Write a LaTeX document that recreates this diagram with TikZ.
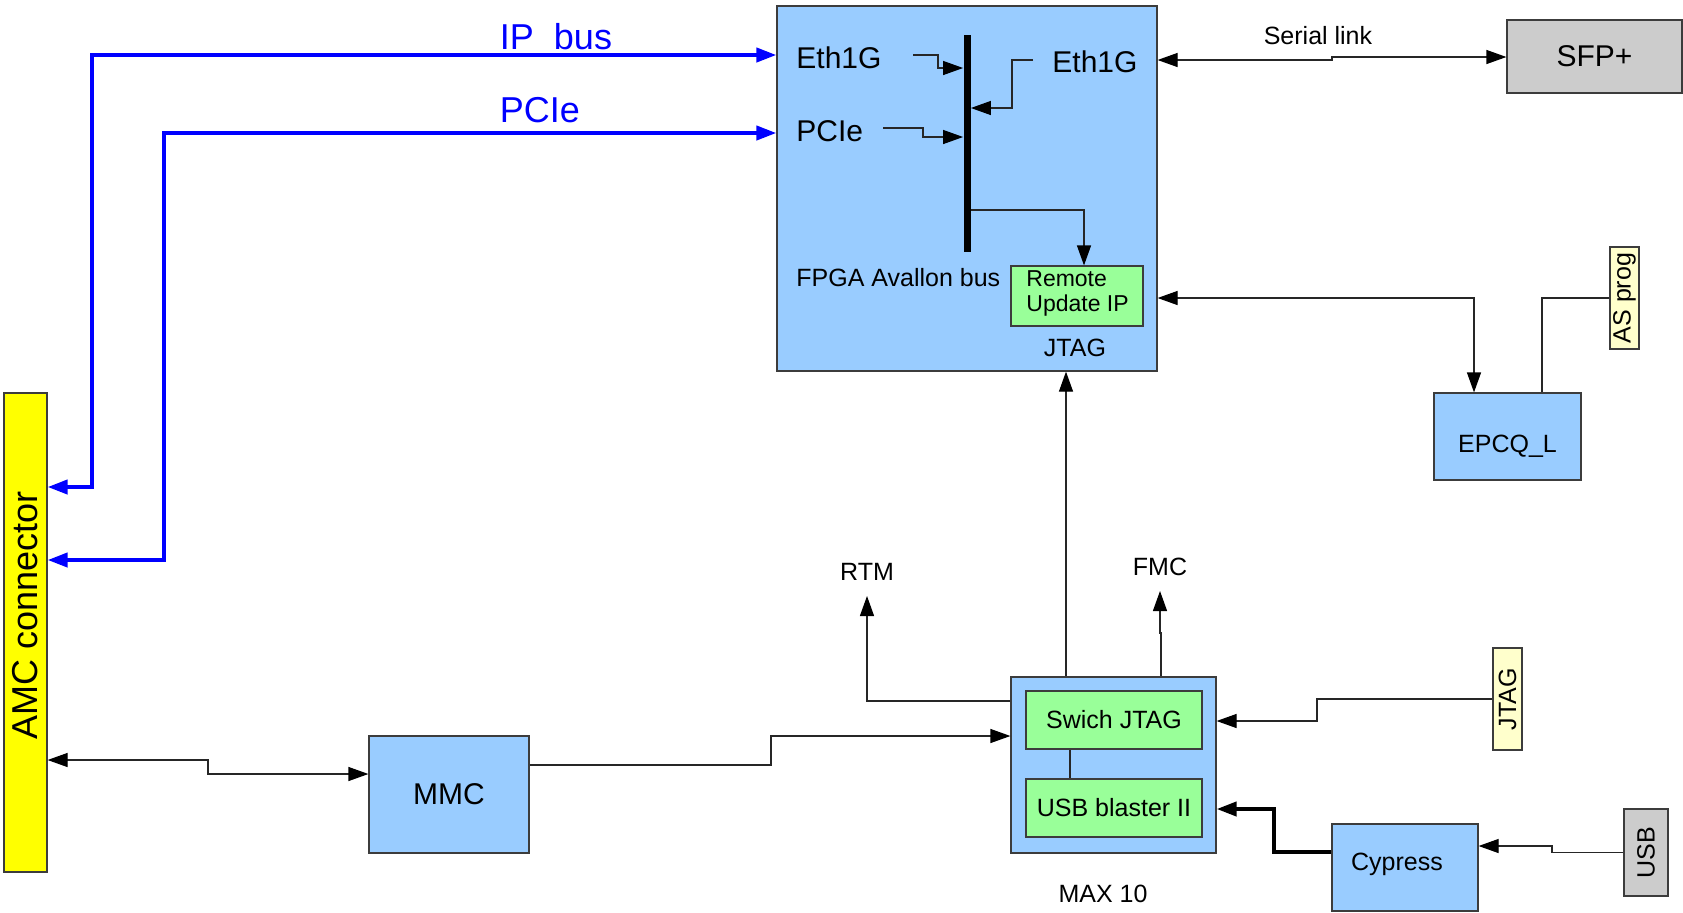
\documentclass[tikz,border=0pt]{standalone}
\usepackage{fontspec}
\setmainfont{Liberation Sans}
\usepackage{tikz}
\usetikzlibrary{arrows.meta,positioning,calc}
\definecolor{fpgablue}{HTML}{99CCFF}
\definecolor{ipgreen}{HTML}{99FF99}
\definecolor{amcyellow}{HTML}{FFFF00}
\definecolor{padyellow}{HTML}{FFFFCC}
\definecolor{portgray}{HTML}{CCCCCC}
\definecolor{boxedge}{HTML}{3C3C3C}
\definecolor{wirecol}{HTML}{262626}
\newcommand{\fsmall}{\fontsize{11.5pt}{12.5pt}\selectfont}
\newcommand{\fnorm}{\fontsize{12.5pt}{15pt}\selectfont}
\newcommand{\fbig}{\fontsize{15pt}{18pt}\selectfont}
\newcommand{\fhuge}{\fontsize{18pt}{21pt}\selectfont}

\begin{document}
\begin{tikzpicture}[x=0.5pt,y=-0.5pt,
  blk/.style={draw=boxedge,line width=0.6pt,inner sep=0pt,font=\fnorm},
  lbl/.style={inner sep=0pt,font=\fnorm},
  wire/.style={draw=wirecol,line width=0.6pt},
  tip/.style={-{Triangle[length=10pt,width=7pt,color=black]}},
  tips/.style={{Triangle[length=10pt,width=7pt,color=black]}-{Triangle[length=10pt,width=7pt,color=black]}},
  bluebus/.style={draw=blue,line width=2pt,{Triangle[length=10pt,width=7pt]}-{Triangle[length=10pt,width=7pt]}}]
  \path[use as bounding box,fill=white] (0,0) rectangle (1683,912);

  % FPGA with its internal bus
  \node[blk,fill=fpgablue,minimum width=190pt,minimum height=182.5pt] (fpga) at (967,188.5) {};
  \node[fill=black,inner sep=0pt,minimum width=3.5pt,minimum height=108.5pt] (bus) at (967,143.5) {};
  \node[lbl,font=\fbig,anchor=west] (ethA) at (796,58) {Eth1G};
  \node[lbl,font=\fbig,anchor=west] (ethB) at (1052,62) {Eth1G};
  \node[lbl,font=\fbig,anchor=west] (pcie) at (796,131) {PCIe};
  \node[lbl,anchor=west] (avl) at (796,278) {FPGA Avallon bus};
  \node[blk,fill=ipgreen,minimum width=66pt,minimum height=30pt] (rup) at (1077,296) {};
  \node[lbl,font=\fsmall,align=left,anchor=north west] (ruptxt) at (1026,270) {Remote\\Update IP};
  \node[lbl] (jtagA) at (1075,348) {JTAG};

  \coordinate (ethAo) at (913,55);
  \coordinate (ethBo) at (1033,60);
  \coordinate (pcieo) at (883,128);
  \draw[wire,tip] (ethAo) -| (938,68) -- (bus.west |- 0,68);
  \draw[wire,tip] (ethBo) -| (1012,108) -- (bus.east |- 0,108);
  \draw[wire,tip] (pcieo) -| (923,137) -- (bus.west |- 0,137);
  \draw[wire,tip] (bus.east |- 0,210) -| ([xshift=3.5pt]rup.north);

  % right hand side
  \node[blk,fill=portgray,font=\fbig,minimum width=87.5pt,minimum height=36.5pt] (sfp) at (1594.5,56.5) {SFP+};
  \node[lbl] (serial) at (1318,36) {Serial link};
  \node[blk,fill=fpgablue,minimum width=73.5pt,minimum height=43.5pt,text height=15.5pt,text depth=0pt] (epcq) at (1507.5,436.5) {EPCQ\_L};
  \node[blk,fill=padyellow,rotate=90,minimum width=51pt,minimum height=14.5pt] (asprog) at (1624.5,298) {AS prog};

  \draw[wire,tips] (fpga.east |- 0,60) -- (1332,60) -- (1332,57) -- (sfp.west |- 0,57);
  \draw[wire,tips] (fpga.east |- 0,298) -| ([xshift=-16.75pt]epcq.north);
  \draw[wire] (asprog.north) -| ([xshift=17.25pt]epcq.north);

  % AMC side
  \node[blk,fill=amcyellow,minimum width=21.5pt,minimum height=239.5pt] (amc) at (25.5,632.5) {};
  \node[lbl,font=\fhuge,rotate=90] (amctxt) at (25.5,615) {AMC connector};
  \node[blk,fill=fpgablue,font=\fbig,minimum width=80pt,minimum height=58.5pt] (mmc) at (449,794.5) {MMC};

  \draw[bluebus] (amc.east |- 0,487) -| (92,55) -- (fpga.west |- 0,55);
  \draw[bluebus] (amc.east |- 0,560) -| (164,133) -- (fpga.west |- 0,133);
  \node[lbl,font=\fhuge,text=blue] (ipbus) at (556,37) {IP\ \ bus};
  \node[lbl,font=\fhuge,text=blue] (pcielbl) at (540,110) {PCIe};
  \draw[wire,tips] (amc.east |- 0,760) -| (208,774) -- (mmc.west |- 0,774);

  % MAX 10 and programming path
  \node[blk,fill=fpgablue,minimum width=102.5pt,minimum height=88pt] (max) at (1113.5,765) {};
  \node[blk,fill=ipgreen,minimum width=88pt,minimum height=29pt] (sw) at (1114,720) {Swich JTAG};
  \node[blk,fill=ipgreen,minimum width=88pt,minimum height=29pt] (ub) at (1114,808) {USB blaster II};
  \node[lbl] (maxtxt) at (1103,894) {MAX 10};
  \node[lbl] (rtm) at (867,572) {RTM};
  \node[lbl] (fmc) at (1160,567) {FMC};
  \node[blk,fill=padyellow,rotate=90,minimum width=51pt,minimum height=14.5pt] (jtagpad) at (1507.5,699) {JTAG};
  \node[blk,fill=fpgablue,minimum width=73pt,minimum height=43.5pt] (cyp) at (1405,867.5) {};
  \node[lbl] (cyptxt) at (1397,864) {Cypress};
  \node[blk,fill=portgray,rotate=90,minimum width=43.5pt,minimum height=22pt] (usb) at (1646,852.5) {USB};

  \coordinate (rtmend) at (867,596);
  \coordinate (fmcend) at (1160,591);
  \draw[wire,tip] (1066,0 |- max.north) -- (1066,0 |- fpga.south);
  \draw[wire,tip] (1161,0 |- max.north) -- (1161,633) -- (fmcend |- 0,633) -- (fmcend);
  \draw[wire,tip] (max.west |- 0,701) -| (rtmend);
  \draw[wire,tip] (mmc.east |- 0,765) -| (771,736) -- (max.west |- 0,736);
  \draw[wire] (sw.south -| 1070,0) -- (ub.north -| 1070,0);
  \draw[wire,tip] (jtagpad.north) -| (1317,721) -- (max.east |- 0,721);
  \draw[wire,tip,draw=black,line width=2pt] (cyp.west |- 0,852) -| (1274,809) -- (max.east |- 0,809);
  \draw[wire,tip] (usb.north) -| (1552,846) -- (cyp.east |- 0,846);
\end{tikzpicture}
\end{document}
